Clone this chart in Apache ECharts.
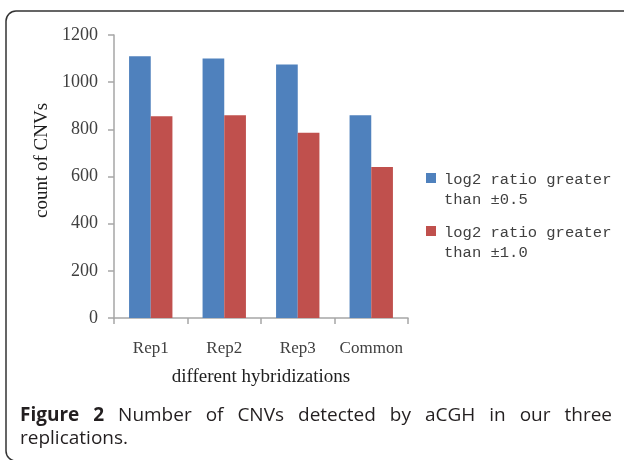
<!DOCTYPE html>
<html>
<head>
<meta charset="utf-8">
<script src="https://cdn.jsdelivr.net/npm/echarts@6/dist/echarts.min.js"></script>
<style>
  html, body { margin: 0; padding: 0; background: #fff; }
  #chart { width: 624px; height: 460px; }
</style>
</head>
<body>
<div id="chart"></div>
<script>
// 数据
var categories = ['Rep1', 'Rep2', 'Rep3', 'Common'];
var seriesNames = ['log2 ratio greater\nthan ±0.5', 'log2 ratio greater\nthan ±1.0'];
var half = [1110, 1100, 1075, 860];
var one = [855, 860, 785, 640];
var yTicks = { min: 0, max: 1200, interval: 200 };
var captionLine1 = ['Figure', '2', 'Number', 'of', 'CNVs', 'detected', 'by', 'aCGH', 'in', 'our', 'three'];
var captionLine2 = 'replications.';

var myChart = echarts.init(document.getElementById('chart'));

var serif = '"Liberation Serif", "DejaVu Serif", serif';
var sans = '"Open Sans", "Noto Sans", sans-serif';
var capSize = 19;

// 两端对齐标题第一行
var ctx = document.createElement('canvas').getContext('2d');
function wordWidth(w, bold) {
  ctx.font = (bold ? 'bold ' : '') + capSize + 'px ' + sans;
  return ctx.measureText(w).width;
}
var capLeft = 20, capRight = 612;
var widths = captionLine1.map(function (w, i) { return wordWidth(w, i < 2); });
var total = widths.reduce(function (a, b) { return a + b; }, 0);
var gap = (capRight - capLeft - total) / (captionLine1.length - 1);
var captionGraphics = [];
var cx = capLeft;
captionLine1.forEach(function (w, i) {
  captionGraphics.push({
    type: 'text',
    silent: true,
    x: cx,
    y: 416,
    style: {
      text: w,
      font: (i < 2 ? 'bold ' : '') + capSize + 'px ' + sans,
      fill: '#231f20',
      verticalAlign: 'middle'
    }
  });
  cx += widths[i] + gap;
});
captionGraphics.push({
  type: 'text',
  silent: true,
  x: capLeft,
  y: 439,
  style: {
    text: captionLine2,
    font: capSize + 'px ' + sans,
    fill: '#231f20',
    verticalAlign: 'middle'
  }
});

var option = {
  color: ['#4F81BD', '#C0504D'],
  animation: false,
  legend: {
    orient: 'vertical',
    left: 421,
    top: 165,
    itemWidth: 10,
    itemHeight: 40,
    itemGap: 13,
    icon: 'path://M0,0L0,0M0,3H10V13H0ZM0,40L0,40',
    data: seriesNames,
    textStyle: {
      fontFamily: '"Liberation Mono", "DejaVu Sans Mono", monospace',
      fontSize: 15.5,
      color: '#404040',
      lineHeight: 20,
      padding: [0, 0, 0, 3]
    }
  },
  grid: {
    left: 114,
    right: 216,
    top: 35,
    bottom: 142
  },
  xAxis: {
    type: 'category',
    data: categories,
    name: 'different hybridizations',
    nameLocation: 'middle',
    nameGap: 50,
    nameTextStyle: { fontFamily: serif, fontSize: 19, color: '#202020' },
    axisLine: { lineStyle: { color: '#a6a6a6', width: 1.5 } },
    axisTick: { show: true, length: 6, lineStyle: { color: '#a6a6a6', width: 1.5 } },
    axisLabel: { interval: 0, fontFamily: serif, fontSize: 17, color: '#404040', margin: 22 }
  },
  yAxis: {
    type: 'value',
    min: yTicks.min,
    max: yTicks.max,
    interval: yTicks.interval,
    name: 'count of CNVs',
    nameLocation: 'middle',
    nameGap: 62,
    nameRotate: 90,
    nameTextStyle: { fontFamily: serif, fontSize: 19, color: '#202020', padding: [0, 0, 0, 32] },
    axisLine: { show: true, lineStyle: { color: '#a6a6a6', width: 1.5 } },
    axisTick: { show: true, length: 6, lineStyle: { color: '#a6a6a6', width: 1.5 } },
    splitLine: { show: false },
    axisLabel: {
      fontFamily: serif, fontSize: 18, color: '#404040', margin: 16,
      formatter: function (v) { return String(v); }
    }
  },
  series: [{
    name: seriesNames[0],
    type: 'bar',
    data: half,
    barGap: '0%',
    barCategoryGap: '41%'
  }, {
    name: seriesNames[1],
    type: 'bar',
    data: one
  }],
  graphic: [{
    type: 'rect',
    silent: true,
    shape: { x: 6, y: 11, width: 640, height: 450, r: 10 },
    style: { fill: 'none', stroke: '#333', lineWidth: 1.5 }
  }].concat(captionGraphics)
};

myChart.setOption(option);
</script>
</body>
</html>
